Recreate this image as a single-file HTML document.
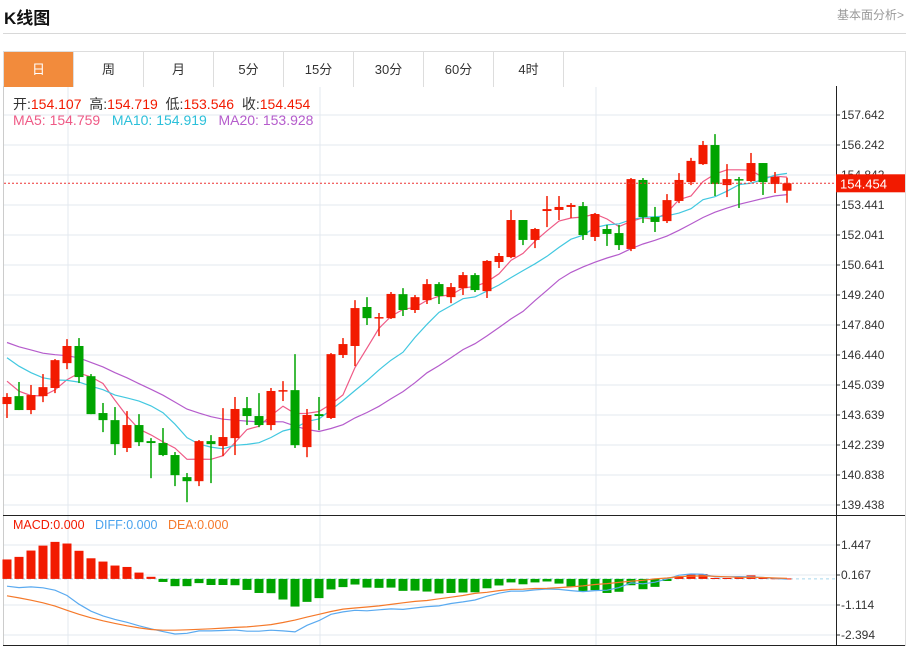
<!DOCTYPE html>
<html><head><meta charset="utf-8">
<style>
body{margin:0;width:909px;height:647px;background:#fff;font-family:"Liberation Sans","Noto Sans CJK SC",sans-serif;overflow:hidden;position:relative}
.title{position:absolute;left:4px;top:4px;font-size:17px;font-weight:bold;color:#111}
.more{position:absolute;right:5px;top:6px;font-size:12px;color:#999}
.hr{position:absolute;left:3px;top:33px;width:903px;height:1px;background:#d8d8d8}
.tabs{position:absolute;left:3px;top:51px;width:901px;height:35px;border:1px solid #ddd;border-bottom:none;display:flex}
.tab{width:70px;height:35px;border-right:1px solid #ddd;box-sizing:border-box;text-align:center;line-height:35px;font-size:13px;color:#333}
.tab.on{background:#f28b3c;color:#fff}
svg{position:absolute;left:0;top:0}
</style></head><body>
<div class="title">K线图</div>
<div class="more">基本面分析&gt;</div>
<div class="hr"></div>
<div class="tabs">
<div class="tab on">日</div>
<div class="tab">周</div>
<div class="tab">月</div>
<div class="tab">5分</div>
<div class="tab">15分</div>
<div class="tab">30分</div>
<div class="tab">60分</div>
<div class="tab">4时</div>
</div>
<svg id="chart" width="909" height="647"></svg>
<script>
const opens=[144.15,144.52,143.87,144.52,144.90,146.06,146.86,145.45,143.73,143.40,142.10,143.17,142.42,142.33,141.77,140.74,140.55,142.42,142.19,142.56,143.96,143.59,143.17,144.76,144.80,142.14,143.68,143.50,146.44,146.86,148.68,148.16,148.16,149.28,148.54,149.00,149.75,149.14,149.56,150.17,149.42,150.78,151.01,152.74,151.81,153.16,153.21,153.35,153.39,151.95,152.32,152.13,151.39,154.61,152.88,152.69,153.63,154.51,155.35,156.24,154.37,154.65,154.56,155.40,154.42,154.107];
const closes=[144.48,143.87,144.57,144.94,146.20,146.86,145.41,143.68,143.40,142.28,143.17,142.37,142.33,141.77,140.83,140.55,142.42,142.28,142.61,143.92,143.59,143.17,144.76,144.80,142.23,143.64,143.59,146.48,146.95,148.63,148.16,148.21,149.29,148.54,149.14,149.75,149.19,149.61,150.17,149.47,150.83,151.06,152.74,151.81,152.32,153.25,153.35,153.44,152.04,153.02,152.09,151.57,154.65,152.88,152.65,153.67,154.61,155.50,156.24,154.42,154.65,154.61,155.40,154.51,154.75,154.454];
const highs=[144.66,145.18,145.04,145.55,146.25,147.18,147.23,145.55,144.20,144.01,143.82,143.68,142.56,143.03,141.91,140.93,142.47,142.70,143.96,144.48,144.48,144.66,144.90,145.22,146.48,143.92,144.48,146.53,147.23,149.00,149.14,148.40,149.38,149.56,149.24,149.98,149.84,149.80,150.31,150.26,150.87,151.20,153.21,152.74,152.37,153.86,153.86,153.53,153.58,153.07,152.51,152.51,154.70,154.70,153.35,153.95,154.93,155.64,156.43,156.75,155.35,154.75,155.87,155.40,154.98,154.719];
const lows=[143.50,143.87,143.68,144.24,144.66,145.78,145.13,143.68,142.84,141.77,141.91,142.19,140.69,141.72,140.32,139.57,140.32,140.46,141.72,141.77,143.17,143.07,142.93,144.29,142.10,141.67,142.93,143.45,146.30,145.92,147.84,147.32,148.12,148.26,148.40,148.82,148.82,148.86,149.24,149.38,149.10,150.50,150.96,151.57,151.43,152.41,152.74,152.83,151.81,151.76,151.53,151.34,151.29,152.60,152.18,152.60,153.53,154.37,155.31,153.86,153.81,153.30,154.51,153.91,154.00,153.546];
const priorCloses=[147.9,147.5,148.0,147.6,147.8,147.4,147.9,147.6,147.7,148.0,147.8,147.6,147.3,147.2,147.1,146.2,145.6,145.0,144.8];
const macdHist=[0.83,0.94,1.21,1.42,1.58,1.51,1.20,0.88,0.74,0.57,0.51,0.27,0.09,-0.13,-0.31,-0.31,-0.18,-0.26,-0.26,-0.27,-0.47,-0.60,-0.61,-0.88,-1.18,-0.98,-0.82,-0.45,-0.35,-0.24,-0.37,-0.38,-0.37,-0.51,-0.50,-0.54,-0.62,-0.60,-0.58,-0.57,-0.40,-0.28,-0.15,-0.23,-0.15,-0.11,-0.20,-0.32,-0.52,-0.48,-0.60,-0.55,-0.27,-0.44,-0.34,-0.09,0.11,0.21,0.21,0.04,0.04,0.06,0.15,0.04,0.03,0.02];
const diffVals=[-0.31,-0.37,-0.34,-0.38,-0.48,-0.71,-1.08,-1.38,-1.58,-1.73,-1.85,-2.00,-2.13,-2.25,-2.35,-2.32,-2.22,-2.22,-2.20,-2.18,-2.23,-2.23,-2.19,-2.22,-2.26,-1.98,-1.78,-1.51,-1.41,-1.34,-1.36,-1.32,-1.28,-1.30,-1.24,-1.18,-1.15,-1.05,-0.98,-0.90,-0.74,-0.61,-0.52,-0.52,-0.47,-0.43,-0.45,-0.50,-0.54,-0.50,-0.48,-0.37,-0.17,-0.21,-0.14,0.0,0.16,0.21,0.20,0.09,0.09,0.10,0.09,0.06,0.02,-0.01];
const deaVals=[-0.72,-0.81,-0.91,-1.02,-1.16,-1.34,-1.51,-1.66,-1.79,-1.90,-2.00,-2.09,-2.16,-2.19,-2.19,-2.17,-2.15,-2.13,-2.10,-2.07,-2.05,-2.00,-1.95,-1.86,-1.76,-1.63,-1.51,-1.39,-1.29,-1.24,-1.20,-1.15,-1.09,-1.02,-0.96,-0.92,-0.85,-0.78,-0.71,-0.62,-0.57,-0.50,-0.45,-0.44,-0.41,-0.40,-0.37,-0.34,-0.30,-0.24,-0.20,-0.15,-0.10,-0.06,0.0,0.04,0.10,0.12,0.13,0.11,0.09,0.07,0.07,0.06,0.04,0.02];
const priceTicks=[157.642,156.242,154.842,153.441,152.041,150.641,149.240,147.840,146.440,145.039,143.639,142.239,140.838,139.438];
const macdTicks=[1.447,0.167,-1.114,-2.394];

const NS='http://www.w3.org/2000/svg';
const svg=document.getElementById('chart');
function mk(tag,attrs,parent){const e=document.createElementNS(NS,tag);for(const k in attrs)e.setAttribute(k,attrs[k]);(parent||svg).appendChild(e);return e;}
const PL=4,PR=836;
const xAt=i=>7+i*12;
const yP=v=>115+(157.642-v)*(390/(157.642-139.438));
const yM=v=>545+(1.447-v)*(90/(1.447+2.394));
const RED='#f21a00',GREEN='#00a400';

priceTicks.forEach((t,i)=>{const y=yP(t);
 const g=mk('line',{x1:PL,x2:PR,y1:y,y2:y,stroke:'#e3e9ef','stroke-width':1});
 
 mk('line',{x1:PR,x2:PR+4,y1:y,y2:y,stroke:'#333'});
 const tx=mk('text',{x:PR+5,y:y+4,'font-size':12,fill:'#333'});tx.textContent=t.toFixed(3);
 
});
macdTicks.forEach(t=>{const y=yM(t);
 const g=mk('line',{x1:PL,x2:PR,y1:y,y2:y,stroke:'#e3e9ef'});
 
 mk('line',{x1:PR,x2:PR+4,y1:y,y2:y,stroke:'#333'});
 const tx=mk('text',{x:PR+5,y:y+4,'font-size':12,fill:'#333'});tx.textContent=t.toFixed(3);
 
});
[5,26,49].forEach(i=>{const x=xAt(i)+1;
 const v=mk('line',{x1:x,x2:x,y1:87,y2:645,stroke:'#e3e9ef'});
 });
mk('line',{x1:3.5,x2:3.5,y1:86,y2:646,stroke:'#ccc'});
mk('line',{x1:PR+.5,x2:PR+.5,y1:86,y2:646,stroke:'#222'});
mk('line',{x1:3,x2:905,y1:515.5,y2:515.5,stroke:'#222'});
mk('line',{x1:3,x2:905,y1:645.5,y2:645.5,stroke:'#222'});
mk('line',{x1:905.5,x2:905.5,y1:86,y2:646,stroke:'#ddd'});

const all=priorCloses.concat(closes);
function ma(n){return closes.map((c,i)=>{const j=i+priorCloses.length;let s=0;for(let k=j-n+1;k<=j;k++)s+=all[k];return s/n;});}
[[5,'#ef5a86','ma5-line'],[10,'#42c8e0','ma10-line'],[20,'#b55ccc','ma20-line']].forEach(([n,c,name])=>{
 const d=ma(n).map((v,i)=>(i?'L':'M')+xAt(i)+','+yP(v).toFixed(1)).join('');
 const p=mk('path',{d:d,fill:'none',stroke:c,'stroke-width':1.2});
 
});

closes.forEach((c,i)=>{const o=opens[i];const up=c>=o;const col=up?RED:GREEN;const x=xAt(i);
 const g=mk('g',{});
 
 mk('line',{x1:x,x2:x,y1:yP(highs[i]),y2:yP(lows[i]),stroke:col,'stroke-width':1.5},g);
 const t=yP(Math.max(o,c)),b=yP(Math.min(o,c));
 mk('rect',{x:x-4.5,y:t,width:9,height:Math.max(1.5,b-t),fill:col},g);
});

const lastC=closes[closes.length-1];const yl=yP(lastC);
const cl=mk('line',{x1:PL,x2:PR,y1:yl,y2:yl,stroke:'#e33','stroke-dasharray':'2,2'});

const lb=mk('rect',{x:PR,y:yl-9,width:69,height:18,fill:'#f21a00'});

const lt=mk('text',{x:PR+4,y:yl+5,'font-size':13,fill:'#fff'});lt.textContent=lastC.toFixed(3);


const z=yM(0);
const zl=mk('line',{x1:PL,x2:PR,y1:z,y2:z,stroke:'#a8d8ec','stroke-dasharray':'3,3'});

macdHist.forEach((v,i)=>{const x=xAt(i);const y=yM(v);
 const r=mk('rect',{x:x-4.5,y:Math.min(y,z),width:9,height:Math.max(1,Math.abs(y-z)),fill:v>=0?RED:GREEN});
 
});
[[diffVals,'#5aaaf0','diff-line'],[deaVals,'#f5792a','dea-line']].forEach(([arr,c,name])=>{
 const d=arr.map((v,i)=>(i?'L':'M')+xAt(i)+','+yM(v).toFixed(1)).join('');
 const p=mk('path',{d:d,fill:'none',stroke:c,'stroke-width':1.2});
 
});
</script>
<div style="position:absolute;left:13px;top:94px;font-size:14px;color:#333;white-space:nowrap">开:<span style="color:#f21a00">154.107</span>&nbsp; 高:<span style="color:#f21a00">154.719</span>&nbsp; 低:<span style="color:#f21a00">153.546</span>&nbsp; 收:<span style="color:#f21a00">154.454</span></div>
<div style="position:absolute;left:13px;top:112px;font-size:14px;white-space:nowrap"><span style="color:#ef5a86">MA5: 154.759</span>&nbsp;&nbsp; <span style="color:#2cc0da">MA10: 154.919</span>&nbsp;&nbsp; <span style="color:#b55ccc">MA20: 153.928</span></div>
<div style="position:absolute;left:13px;top:518px;font-size:12.5px;white-space:nowrap"><span style="color:#f21a00">MACD:0.000</span>&nbsp;&nbsp; <span style="color:#4aa3ee">DIFF:0.000</span>&nbsp;&nbsp; <span style="color:#f5792a">DEA:0.000</span></div>
</body></html>
